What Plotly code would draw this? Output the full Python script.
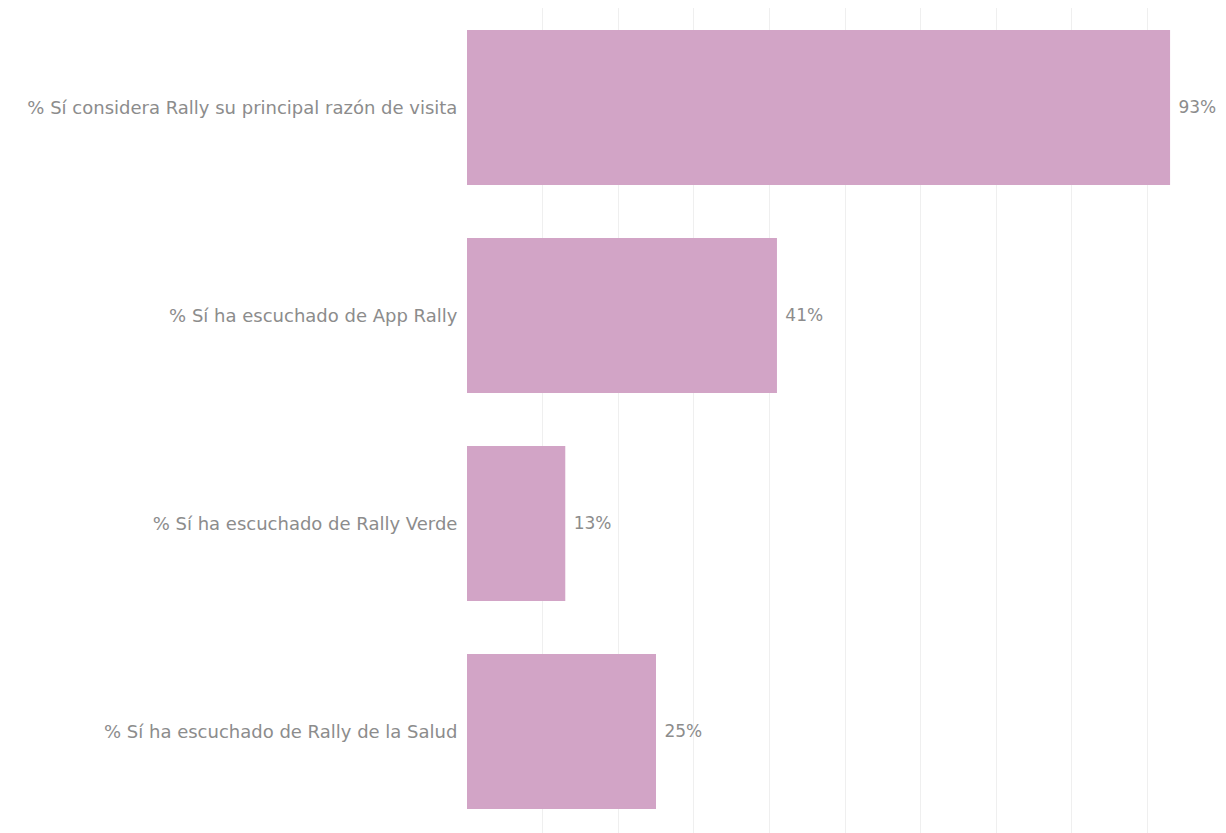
import plotly.graph_objects as go

categories = [
    "% Sí considera Rally su principal razón de visita",
    "% Sí ha escuchado de App Rally",
    "% Sí ha escuchado de Rally Verde",
    "% Sí ha escuchado de Rally de la Salud",
]
values = [93, 41, 13, 25]
value_labels = ["93%", "41%", "13%", "25%"]

fig = go.Figure(
    go.Bar(
        y=categories,
        x=values,
        orientation="h",
        marker=dict(color="#D2A4C6", line=dict(width=0)),
        text=value_labels,
        texttemplate="\u00a0%{text}",
        textposition="outside",
        textfont=dict(color="#8c8c8c", size=17, family="DejaVu Sans"),
        cliponaxis=False,
    )
)

fig.update_layout(
    width=1218,
    height=825,
    margin=dict(l=459, r=3, t=0, b=0, autoexpand=False),
    paper_bgcolor="white",
    plot_bgcolor="white",
    bargap=0.255,
    showlegend=False,
    font=dict(family="DejaVu Sans", size=18, color="#8c8c8c"),
    xaxis=dict(
        range=[0, 100],
        dtick=10,
        showticklabels=False,
        showgrid=True,
        gridcolor="#efefef",
        gridwidth=1,
        zeroline=False,
        showline=False,
    ),
    yaxis=dict(
        range=[3.488, -0.478],
        showgrid=False,
        zeroline=False,
        showline=False,
        ticks="outside",
        ticklen=5,
        tickcolor="rgba(0,0,0,0)",
        tickfont=dict(family="DejaVu Sans", size=18, color="#8c8c8c"),
    ),
)

fig.write_html("out.html")
